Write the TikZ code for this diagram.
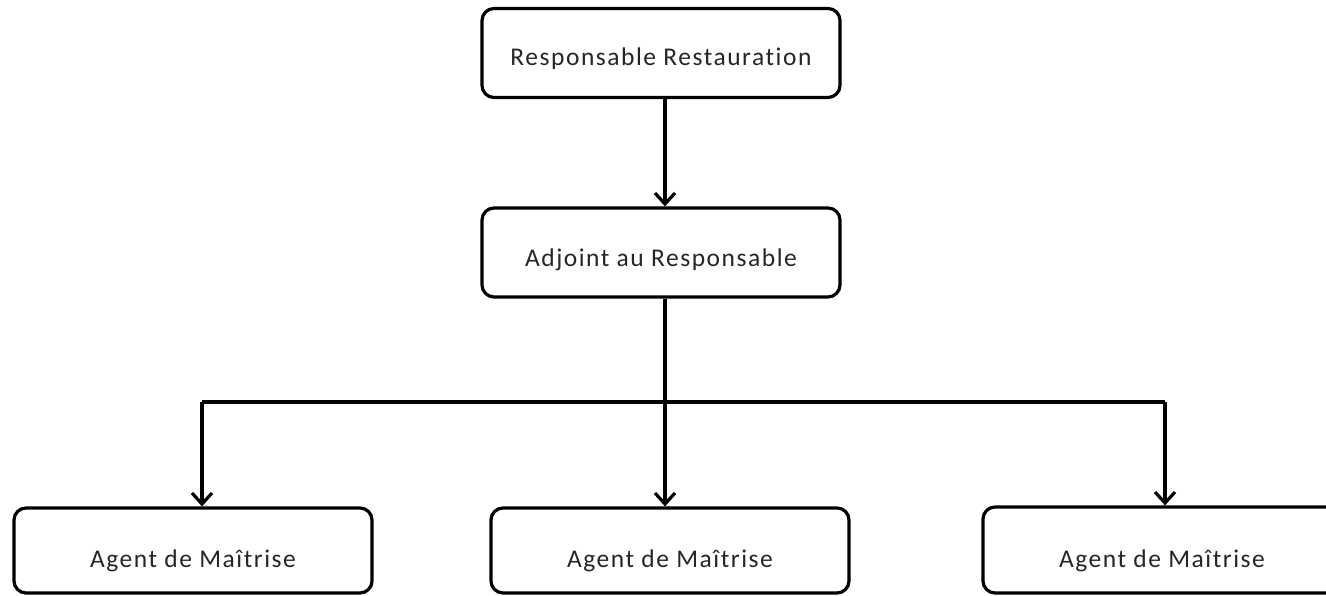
\documentclass[tikz,border=0pt]{standalone}
\usepackage{fontspec}
\setmainfont{Carlito}[Ligatures={NoCommon}, LetterSpace=6]
\usetikzlibrary{arrows.meta}
\begin{document}
\begin{tikzpicture}[x=1pt,y=1pt,
  box/.style={draw=black, line width=3.2pt, rounded corners=12pt, fill=white,
    minimum width=358pt, inner sep=0pt, font=\fontsize{25.5}{30}\selectfont, text=black!85,
    text depth=0pt, text height=28pt},
  link/.style={line width=3.2pt, draw=black},
  arr/.style={link, -{Straight Barb[length=11pt,width=20pt,line width=3.2pt]}}]
\useasboundingbox (0,0) rectangle (1326,596);
% top of the hierarchy
\node[box, minimum height=89pt, text height=26pt] (resp) at (661,543) {Responsable Restauration};
\node[box, minimum height=89pt] (adj) at (661,343.5) {Adjoint au Responsable};
% three team leaders
\node[box, minimum height=85pt, text height=35pt] (ag1) at (193,45.5) {Agent de Maîtrise};
\node[box, minimum height=85pt, text height=35pt] (ag2) at (670,45.5) {Agent de Maîtrise};
\node[box, minimum height=86pt, text height=35pt] (ag3) at (1162,46) {Agent de Maîtrise};
% distribution bar
\coordinate (b1) at (202,194);
\coordinate (b2) at (665,194);
\coordinate (b3) at (1165,194);
\draw[arr] (resp.south -| b2) -- (adj.north -| b2);
\draw[link] (adj.south -| b2) -- (b2);
\draw[link, line join=miter] (b1 |- 0,194) -- (b3);
\draw[arr] (b1) -- (b1 |- ag1.north);
\draw[arr] (b2) -- (b2 |- ag2.north);
\draw[arr] (b3) -- (b3 |- ag3.north);
\end{tikzpicture}
\end{document}
